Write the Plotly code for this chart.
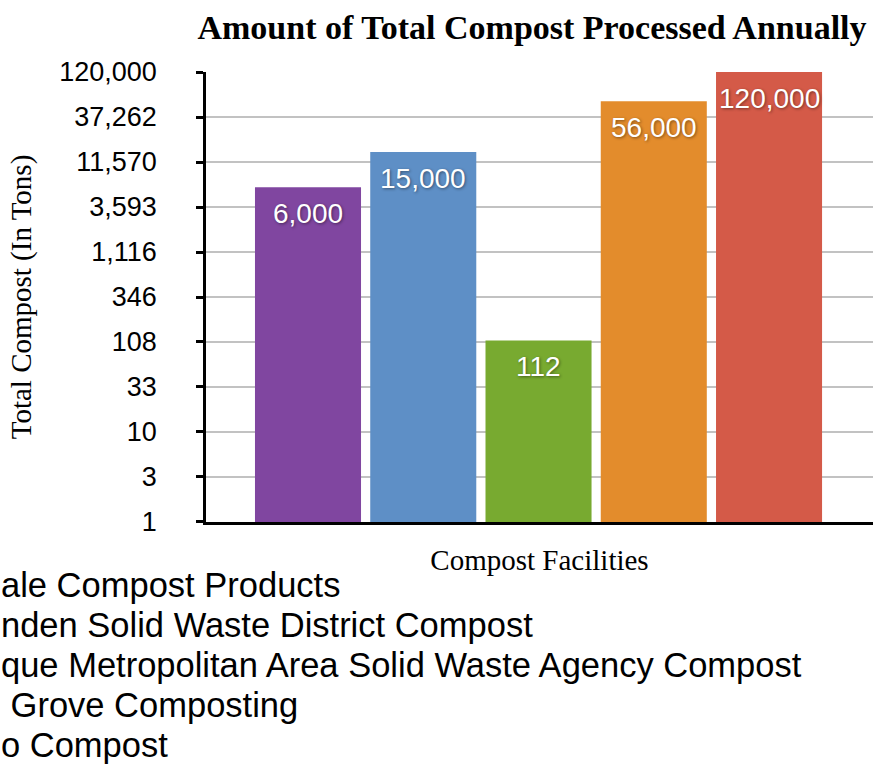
import numpy as np
import plotly.graph_objects as go

# ---- data ----
facilities = [
    "ale Compost Products",
    "nden Solid Waste District Compost",
    "que Metropolitan Area Solid Waste Agency Compost",
    " Grove Composting",
    "o Compost",
]
tons = [6000, 15000, 112, 56000, 120000]
value_labels = ["6,000", "15,000", "112", "56,000", "120,000"]
bar_colors = ["#8046A0", "#5E8FC6", "#78AA30", "#E38C2C", "#D45A48"]

tick_values = [1, 3.2207, 10.373, 33.41, 107.6, 346.4, 1115.6, 3593, 11570, 37262, 120000]
tick_labels = ["1", "3", "10", "33", "108", "346", "1,116", "3,593", "11,570", "37,262", "120,000"]

title_text = "Amount of Total Compost Processed Annually"
y_title = "Total Compost (In Tons)"
x_title = "Compost Facilities"

SANS = "Liberation Sans, Arial, Helvetica, sans-serif"
SERIF = "Liberation Serif, Times New Roman, serif"

W, H = 885, 769
L, R, T, B = 206, 12, 72, 247
plot_w = W - L - R
plot_h = H - T - B

fig = go.Figure()
fig.add_trace(go.Bar(
    x=facilities,
    y=tons,
    marker=dict(color=bar_colors, line=dict(width=0)),
    width=0.92,
    showlegend=False,
    hoverinfo="x+y",
))

annotations = []
# value labels inside the bars
for f, v, lab in zip(facilities, tons, value_labels):
    annotations.append(dict(
        x=f, y=np.log10(v), xref="x", yref="y",
        text=lab, showarrow=False, yanchor="top", xanchor="center",
        yshift=-9,
        font=dict(family=SANS, size=28, color="white",
                  shadow="1px 1px 3px rgba(0,0,0,0.45)"),
    ))

# legend-like list of facility names (left part clipped in original)
leg_x = -L / plot_w
leg_y0 = (T + plot_h - 585) / plot_h
leg_step = 40 / plot_h
for i, f in enumerate(facilities):
    annotations.append(dict(
        x=leg_x, y=leg_y0 - i * leg_step, xref="paper", yref="paper",
        text=f.replace(" ", "&nbsp;", 1) if f.startswith(" ") else f,
        showarrow=False, xanchor="left", yanchor="middle",
        font=dict(family=SANS, size=34.5, color="black"),
        borderpad=0,
    ))

fig.update_layout(
    width=W, height=H,
    margin=dict(l=L, r=R, t=T, b=B, autoexpand=False),
    paper_bgcolor="white",
    plot_bgcolor="white",
    title=dict(
        text=f"<b>{title_text}</b>",
        font=dict(family=SERIF, size=34, color="black"),
        x=532 / W, xref="container", xanchor="center",
        y=1 - 27 / H, yref="container", yanchor="middle",
    ),
    xaxis=dict(
        type="category",
        range=[-0.885, 4.902],
        showticklabels=False,
        ticks="",
        showgrid=False,
        zeroline=False,
        showline=True, linecolor="black", linewidth=3,
        title=dict(text=x_title, font=dict(family=SERIF, size=29, color="black"), standoff=26),
        automargin=False,
    ),
    yaxis=dict(
        type="log",
        range=[-0.0005, np.log10(120000) + 0.0005],
        tickvals=tick_values,
        ticktext=tick_labels,
        ticks="outside", ticklen=7, tickwidth=2.5, tickcolor="black",
        tickfont=dict(family=SANS, size=27, color="black"),
        ticklabelstandoff=34,
        showgrid=True, gridcolor="#C2C2C2", gridwidth=2,
        zeroline=False,
        showline=True, linecolor="black", linewidth=2.5,
        title=dict(text=y_title, font=dict(family=SERIF, size=29, color="black"), standoff=20),
        automargin=False,
    ),
    yaxis2=dict(
        type="log",
        overlaying="y", anchor="x", side="left",
        range=[-0.0005, np.log10(120000) + 0.0005],
        tickvals=tick_values,
        ticks="inside", ticklen=7, tickwidth=2.5, tickcolor="black",
        showticklabels=False, showgrid=False, showline=False, zeroline=False,
        automargin=False,
    ),
    annotations=annotations,
    bargap=0.08,
)

fig.write_html("out.html")
